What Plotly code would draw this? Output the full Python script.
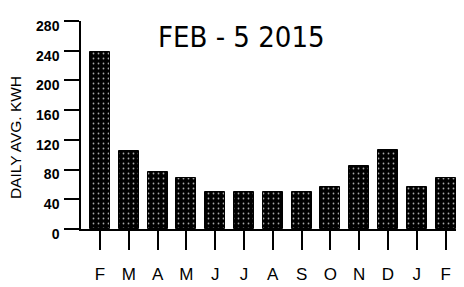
import plotly.graph_objects as go

months = ["F", "M", "A", "M", "J", "J", "A", "S", "O", "N", "D", "J", "F"]
kwh = [238, 105, 77, 68, 50, 50, 50, 50, 56, 85, 107, 56, 69]
y_ticks = [0, 40, 80, 120, 160, 200, 240, 280]
y_ticktext = ["0", "40", "80", "120", "160", "200", "240", "280"]
x_pos = list(range(len(months)))

fig = go.Figure()
fig.add_trace(go.Bar(
    x=x_pos, y=kwh, width=0.69,
    marker=dict(color="black", line=dict(color="black", width=1),
                pattern=dict(shape=".", bgcolor="black", fgcolor="#a8a8a8",
                             size=5, solidity=0.1, fillmode="replace")),
))

fig.update_layout(
    width=456, height=279,
    margin=dict(l=73, r=0, t=13, b=58, autoexpand=False),
    paper_bgcolor="white", plot_bgcolor="white",
    showlegend=False, bargap=0,
    font=dict(family="Liberation Sans, Arial, sans-serif", color="black"),
)
fig.update_xaxes(
    range=[-0.66, 12.64], tickvals=x_pos, ticktext=months,
    showgrid=False, zeroline=False, showline=True, linecolor="black", linewidth=1.5,
    ticks="outside", ticklen=19, tickwidth=1.5, tickcolor="black",
    ticklabelstandoff=10, tickfont=dict(size=17), automargin=False,
)
fig.update_yaxes(
    range=[0, 280], tickvals=y_ticks, ticktext=y_ticktext,
    showgrid=False, zeroline=False, showline=True, linecolor="black", linewidth=1.5,
    ticks="outside", ticklen=15, tickwidth=1.5, tickcolor="black",
    ticklabelstandoff=2, ticklabelshift=5, automargin=False,
    tickfont=dict(size=14, family="Liberation Sans, Arial, sans-serif", weight="bold"),
)
fig.add_annotation(
    text="DAILY AVG. KWH", textangle=-90, xref="paper", yref="paper",
    x=-0.172, y=0.4375, xanchor="center", yanchor="middle",
    showarrow=False, font=dict(size=15.5),
)
fig.add_annotation(
    text="FEB - 5 2015", xref="paper", yref="paper", x=0.418, y=0.923,
    xanchor="center", yanchor="middle",
    showarrow=False, font=dict(size=29, family="DejaVu Sans Condensed"),
)
fig.write_html("out.html")
